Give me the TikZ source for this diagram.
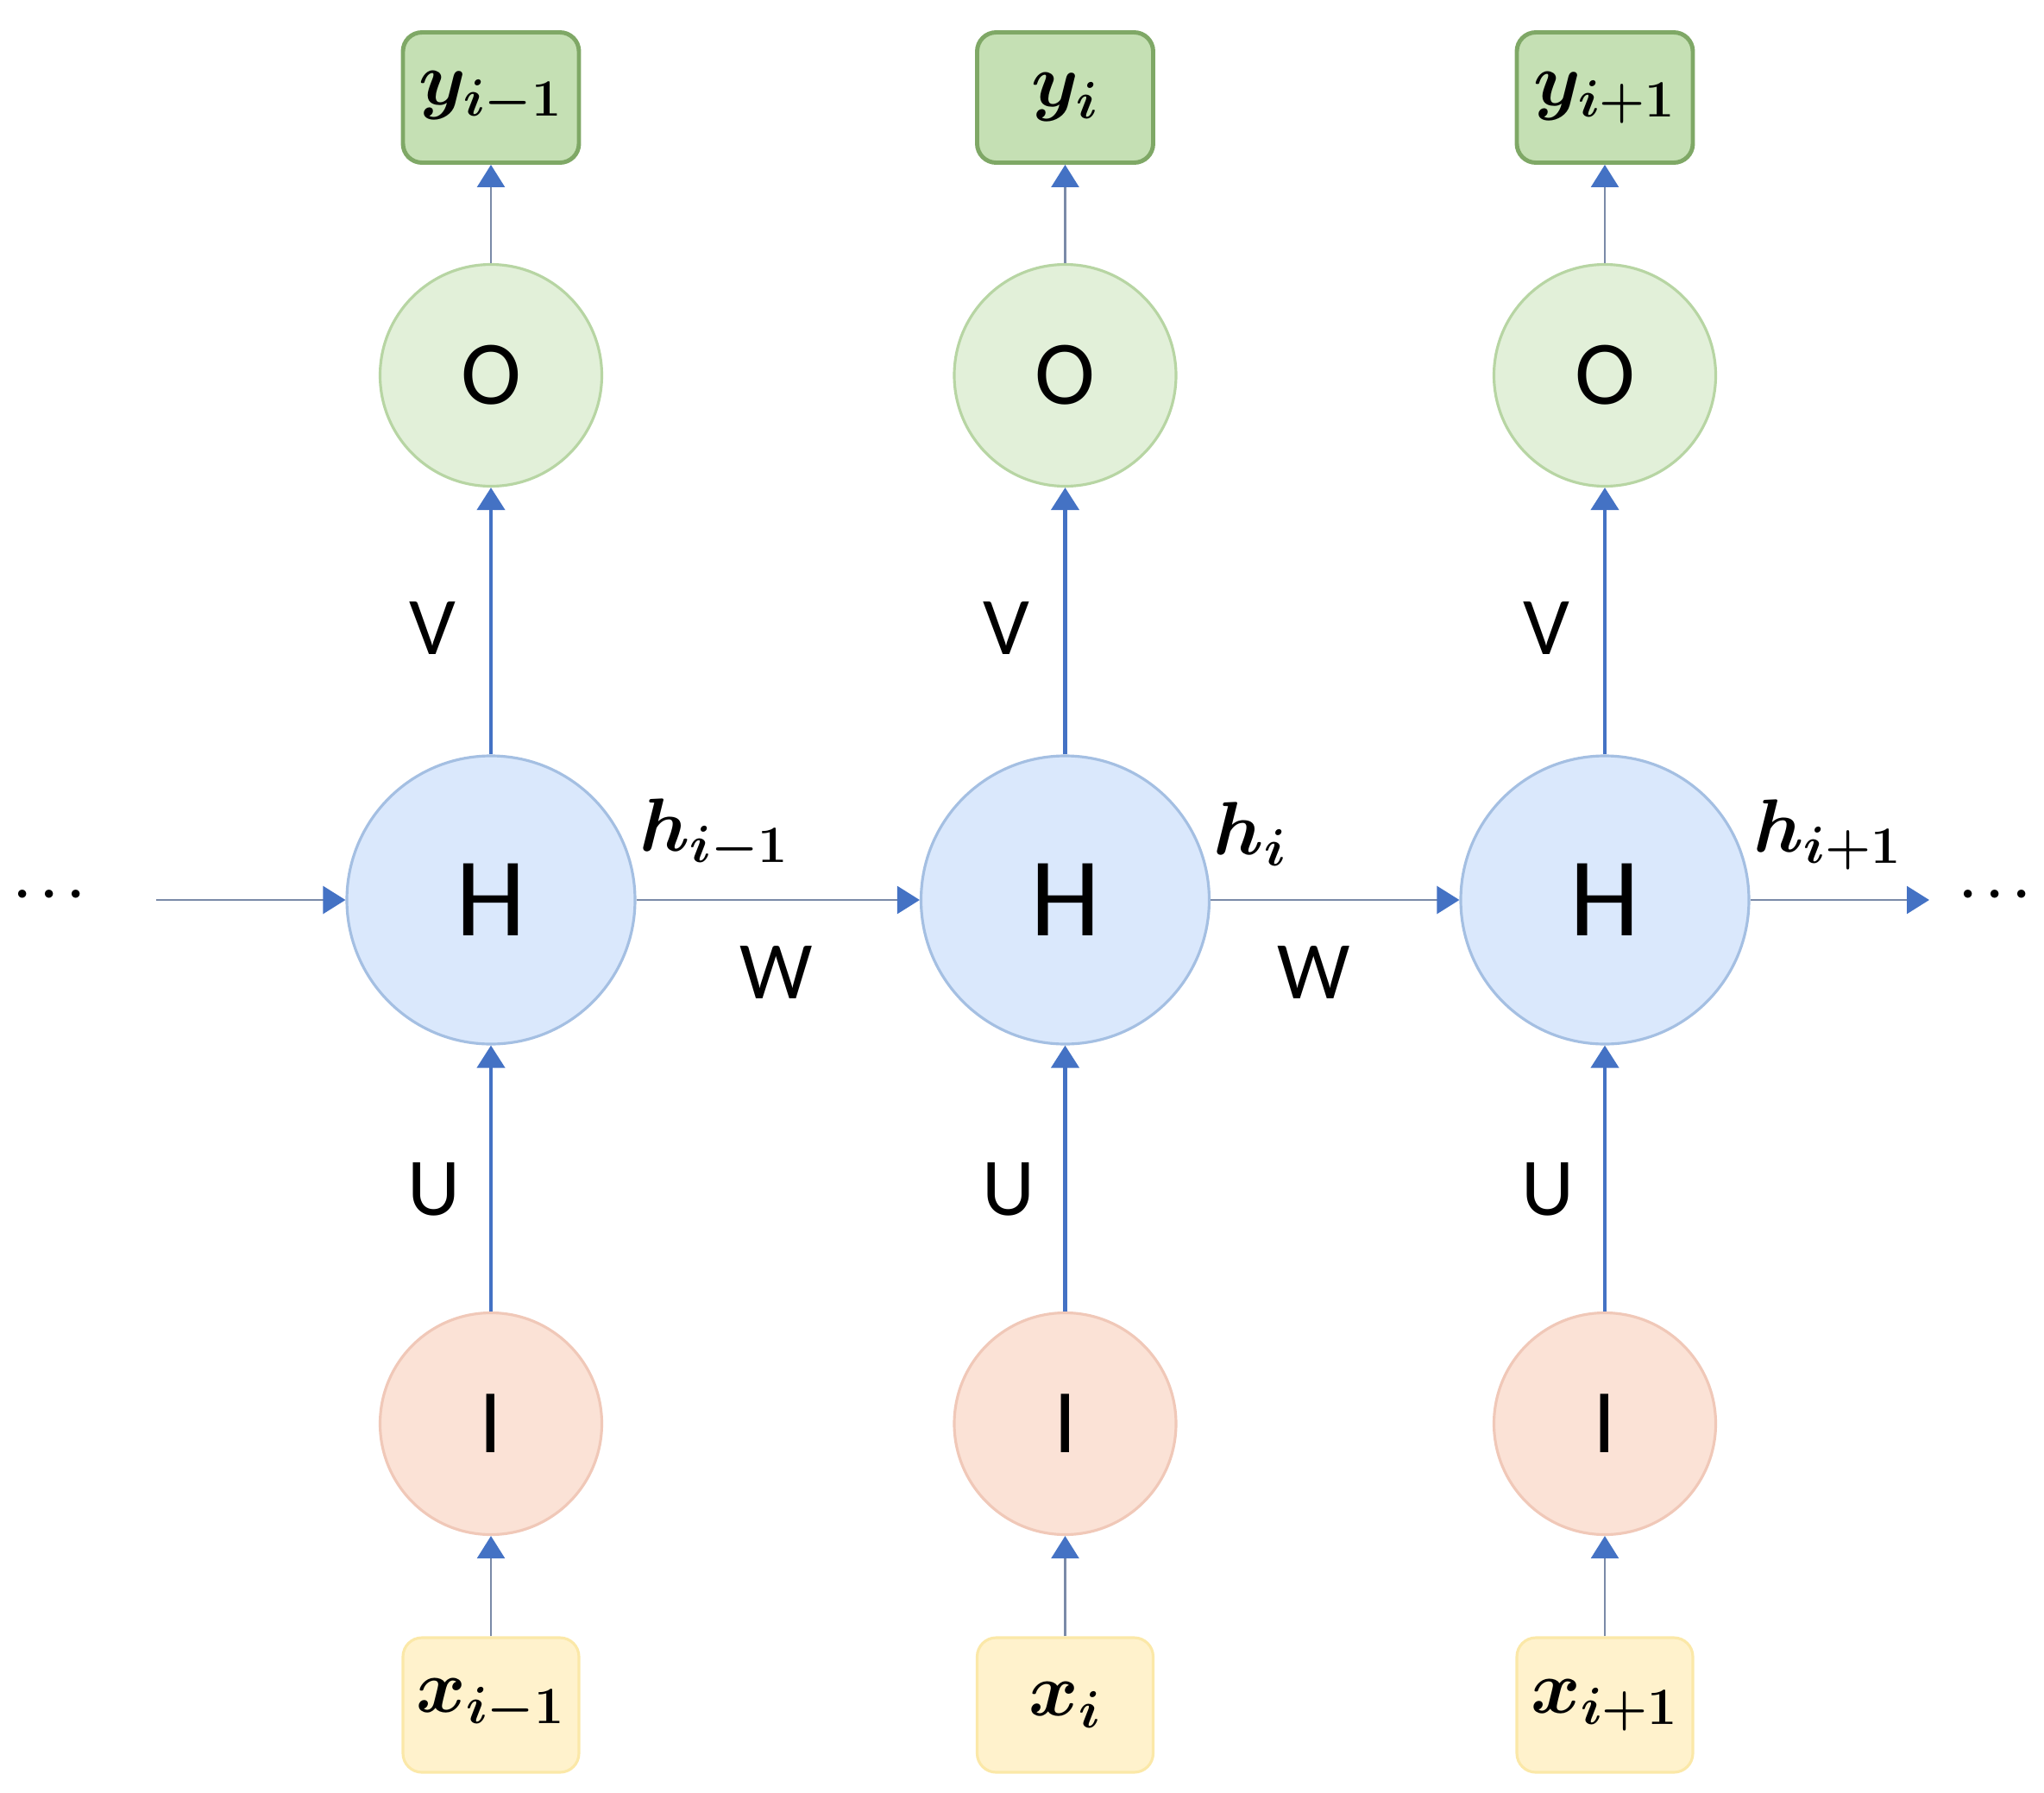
\documentclass[tikz,border=0pt]{standalone}
\usepackage{fontspec}
\setmainfont{Carlito}
\usetikzlibrary{arrows.meta}
\definecolor{ofill}{HTML}{E2F0D9}
\definecolor{odraw}{HTML}{B7D5A3}
\definecolor{yfill}{HTML}{C5E0B4}
\definecolor{ydraw}{HTML}{7FA866}
\definecolor{hfill}{HTML}{DAE8FC}
\definecolor{hdraw}{HTML}{A4BFE2}
\definecolor{ifill}{HTML}{FBE2D6}
\definecolor{idraw}{HTML}{F0C8B8}
\definecolor{xfill}{HTML}{FFF2CC}
\definecolor{xdraw}{HTML}{FBE8A8}
\definecolor{arrblue}{HTML}{4472C4}
\definecolor{thinline}{HTML}{7A8AA8}
\tikzset{
  onode/.style={circle,fill=ofill,draw=odraw,line width=0.9pt,minimum size=2.57cm,inner sep=0pt,font=\fontsize{30}{30}\selectfont},
  hnode/.style={circle,fill=hfill,draw=hdraw,line width=0.9pt,minimum size=3.34cm,inner sep=0pt,font=\fontsize{37}{37}\selectfont},
  inode/.style={circle,fill=ifill,draw=idraw,line width=0.9pt,minimum size=2.57cm,inner sep=0pt,font=\fontsize{30}{30}\selectfont},
  ybox/.style={rectangle,rounded corners=0.22cm,fill=yfill,draw=ydraw,line width=1.4pt,minimum width=2.04cm,minimum height=1.51cm,inner sep=0pt,font=\fontsize{27}{27}\selectfont\boldmath},
  xbox/.style={rectangle,rounded corners=0.22cm,fill=xfill,draw=xdraw,line width=0.9pt,minimum width=2.04cm,minimum height=1.56cm,inner sep=0pt,font=\fontsize{27}{27}\selectfont\boldmath},
  thick arrow/.style={draw=arrblue,line width=1.2pt,-{Triangle[length=0.26cm,width=0.32cm]},color=arrblue},
  thin arrow/.style={draw=thinline,line width=0.7pt,-{Triangle[length=0.26cm,width=0.32cm,fill=arrblue,color=arrblue]}},
  wlabel/.style={font=\fontsize{27}{27}\selectfont},
  hlabel/.style={font=\fontsize{27}{27}\selectfont\boldmath,anchor=west,inner sep=0pt},
  dotlabel/.style={font=\fontsize{17}{17}\selectfont\boldmath,inner sep=0pt}
}
\begin{document}
\begin{tikzpicture}
\useasboundingbox (0,0) rectangle (23.69,-20.78);
% columns
\foreach \c/\cx/\sub/\hsub in {a/5.69/{i-1}/{i-1}, b/12.345/{i}/{i}, c/18.60/{i+1}/{i+1}}{
  \node[ybox] (y\c) at (\cx,-1.13) {$y_{\sub}$};
  \node[onode] (o\c) at (\cx,-4.35) {O};
  \node[hnode] (h\c) at (\cx,-10.43) {H};
  \node[inode] (i\c) at (\cx,-16.50) {I};
  \node[xbox] (x\c) at (\cx,-19.76) {$x_{\sub}$};
  \draw[thin arrow] (o\c.north) -- (y\c.south);
  \draw[thick arrow] (h\c.north) -- (o\c.south);
  \draw[thick arrow] (i\c.north) -- (h\c.south);
  \draw[thin arrow] (x\c.north) -- (i\c.south);
  \node[wlabel] (v\c) at (\cx-0.68,-7.28) {V};
  \node[wlabel] (u\c) at (\cx-0.66,-13.78) {U};
  \node[hlabel] (hl\c) at ([xshift=0.03cm,yshift=0.76cm]h\c.east) {$h_{\hsub}$};
}
\node[dotlabel] (dl) at (0.57,-10.37) {$\cdots$};
\node[dotlabel] (dr) at (23.12,-10.37) {$\cdots$};
\coordinate (sl) at (1.81,-10.43);
\coordinate (er) at (22.36,-10.43);
\draw[thin arrow] (sl) -- (ha.west);
\draw[thin arrow] (ha.east) -- (hb.west);
\draw[thin arrow] (hb.east) -- (hc.west);
\draw[thin arrow] (hc.east) -- (er);
\node[wlabel] (w1) at (9.0,-11.27) {W};
\node[wlabel] (w2) at (15.23,-11.27) {W};
\end{tikzpicture}
\end{document}
